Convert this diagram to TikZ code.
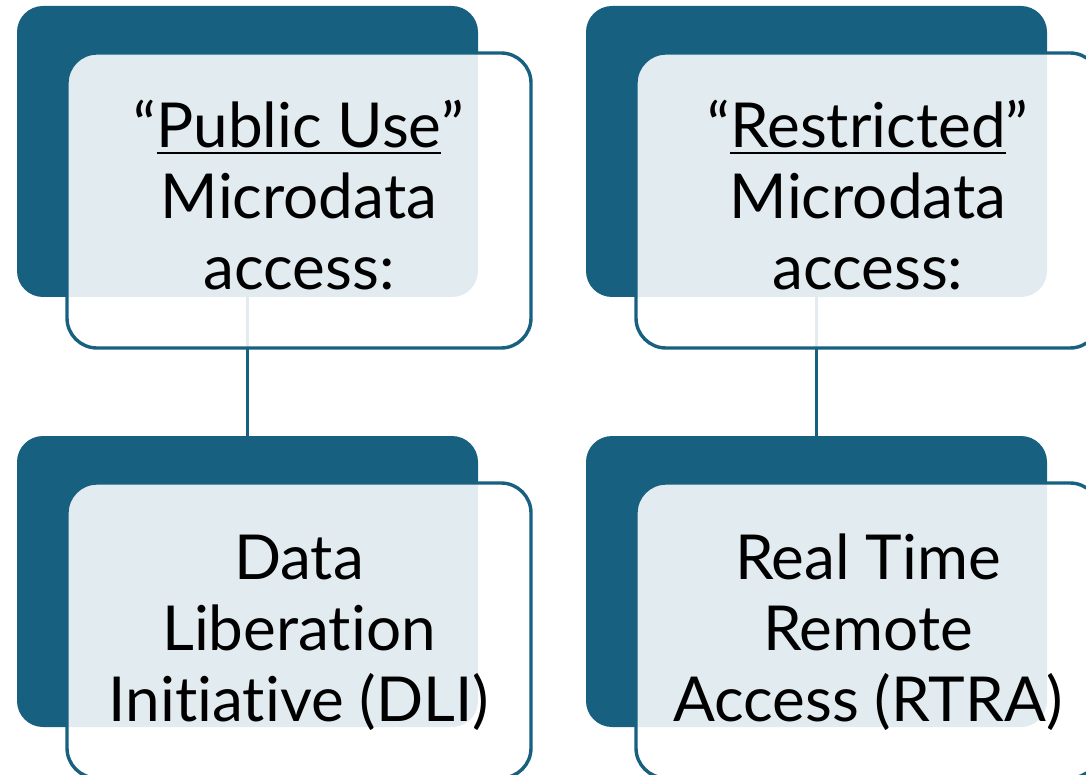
\documentclass[tikz,border=0pt]{standalone}
\usepackage{fontspec}
\setmainfont{Lato}[Ligatures=NoCommon]
\definecolor{tealA}{HTML}{186080}
\newcommand\myul[1]{\leavevmode\setbox0\hbox{#1}\rlap{\rule[-6pt]{\wd0}{2pt}}\box0}
\tikzset{
  backbox/.style={fill=tealA, draw=none, rounded corners=26pt, minimum width=461pt, minimum height=291pt, inner sep=0pt},
  frontbox/.style={fill=white, fill opacity=0.88, draw=tealA, draw opacity=1, line width=3.4pt, rounded corners=30pt, minimum width=464pt, minimum height=295pt, inner sep=0pt},
  textblock/.style={inner sep=0pt, align=center, text=black, font=\fontsize{62}{71}\selectfont},
  linkline/.style={draw=tealA, line width=3.6pt}
}
\begin{document}
\begin{tikzpicture}[x=1pt,y=-1pt]
\useasboundingbox (0,0) rectangle (1086,775);
\clip (0,0) rectangle (1086,775);
\node[backbox] (d1) at (247.5,151.5) {};
\node[backbox] (d2) at (816.5,151.5) {};
\node[backbox] (d3) at (247.5,581.5) {};
\node[backbox] (d4) at (816.5,581.5) {};
\draw[linkline] (d1.south) -- (d3.north);
\draw[linkline] (d2.south) -- (d4.north);
\node[frontbox] (f1) at (299,200.5) {};
\node[frontbox] (f2) at (868,200.5) {};
\node[frontbox] (f3) at (299,630.5) {};
\node[frontbox] (f4) at (868,630.5) {};
\node[textblock] (t1) at ([yshift=5pt]f1.center) {“\myul{Public Use}”\\Microdata\\access:};
\node[textblock] (t2) at ([yshift=5pt]f2.center) {“\myul{Restricted}”\\Microdata\\access:};
\node[textblock] (t3) at ([yshift=-2pt]f3.center) {Data\\Liberation\\Initiative (DLI)};
\node[textblock] (t4) at ([yshift=-2pt]f4.center) {Real Time\\Remote\\Access (RTRA)};
\end{tikzpicture}
\end{document}
